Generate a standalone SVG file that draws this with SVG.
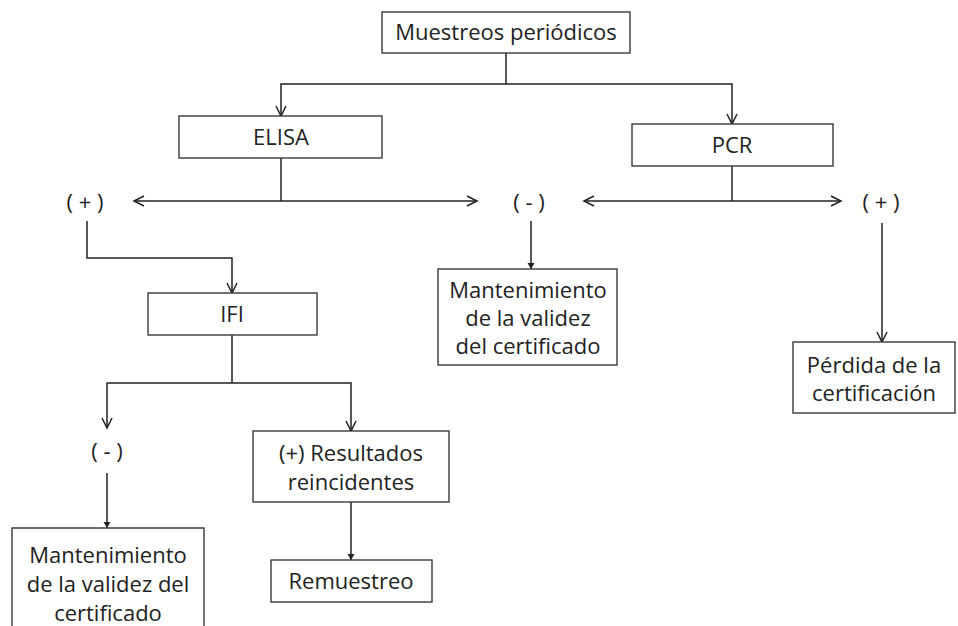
<svg xmlns="http://www.w3.org/2000/svg" width="958" height="626" viewBox="0 0 958 626">
<style>
.box{fill:#fff;stroke:#3a3a3a;stroke-width:1.4}
.t{font-family:"Open Sans","Liberation Sans",sans-serif;font-size:22px;fill:#222;text-anchor:middle}
.c{fill:none;stroke:#222;stroke-width:1.5}
.o{marker-end:url(#open)}
.f{marker-end:url(#fill)}
.b{marker-start:url(#open);marker-end:url(#open)}
</style>
<defs>
<marker id="open" markerUnits="userSpaceOnUse" markerWidth="14" markerHeight="14" viewBox="-11 -7 14 14" refX="0" refY="0" orient="auto-start-reverse">
<path d="M-10,-5 L0,0 L-10,5" fill="none" stroke="#222" stroke-width="1.5"/>
</marker>
<marker id="fill" markerUnits="userSpaceOnUse" markerWidth="10" markerHeight="10" viewBox="-7 -5 9 10" refX="0" refY="0" orient="auto">
<path d="M-6,-3.5 L0,0 L-6,3.5 Z" fill="#222"/>
</marker>
</defs>
<g id="connectors">
<path class="c" d="M506,53 V84"/>
<path class="c o" d="M506,84 H281 V116"/>
<path class="c o" d="M506,84 H732 V124"/>
<path class="c" d="M281,158 V201"/>
<path class="c b" d="M134,201 H477"/>
<path class="c" d="M732,166 V201"/>
<path class="c b" d="M584,201 H841"/>
<path class="c o" d="M87,221 V258 H232 V293"/>
<path class="c f" d="M531,221 V269"/>
<path class="c o" d="M882,223 V342"/>
<path class="c" d="M232,335 V383"/>
<path class="c o" d="M232,383 H107 V428"/>
<path class="c o" d="M232,383 H351 V431"/>
<path class="c f" d="M107,473 V528"/>
<path class="c f" d="M351,502 V560"/>
</g>
<g id="muestreos">
<rect class="box" x="382" y="12" width="248" height="41"/>
<text class="t" x="506" y="40">Muestreos periódicos</text>
</g>
<g id="elisa">
<rect class="box" x="179" y="116" width="203" height="42"/>
<text class="t" x="281" y="145">ELISA</text>
</g>
<g id="pcr">
<rect class="box" x="632" y="124" width="201" height="42"/>
<text class="t" x="732" y="153">PCR</text>
</g>
<g id="elisa-pos"><text class="t" x="85" y="210">( + )</text></g>
<g id="neg"><text class="t" x="529" y="210">( - )</text></g>
<g id="pcr-pos"><text class="t" x="881" y="210">( + )</text></g>
<g id="ifi">
<rect class="box" x="148" y="293" width="169" height="42"/>
<text class="t" x="232" y="322">IFI</text>
</g>
<g id="mant1">
<rect class="box" x="438" y="269" width="179" height="96"/>
<text class="t" x="528" y="298">Mantenimiento</text>
<text class="t" x="528" y="326">de la validez</text>
<text class="t" x="528" y="354">del certificado</text>
</g>
<g id="perdida">
<rect class="box" x="793" y="342" width="162" height="71"/>
<text class="t" x="874" y="373">Pérdida de la</text>
<text class="t" x="874" y="401">certificación</text>
</g>
<g id="ifi-neg"><text class="t" x="107" y="459">( - )</text></g>
<g id="resultados">
<rect class="box" x="253" y="431" width="196" height="71"/>
<text class="t" x="351" y="461">(+) Resultados</text>
<text class="t" x="351" y="490">reincidentes</text>
</g>
<g id="mant2">
<path class="box" d="M12,630 V528 H204 V630"/>
<text class="t" x="108" y="563">Mantenimiento</text>
<text class="t" x="108" y="592">de la validez del</text>
<text class="t" x="108" y="621">certificado</text>
</g>
<g id="remuestreo">
<rect class="box" x="271" y="560" width="161" height="42"/>
<text class="t" x="351" y="589">Remuestreo</text>
</g>
</svg>
